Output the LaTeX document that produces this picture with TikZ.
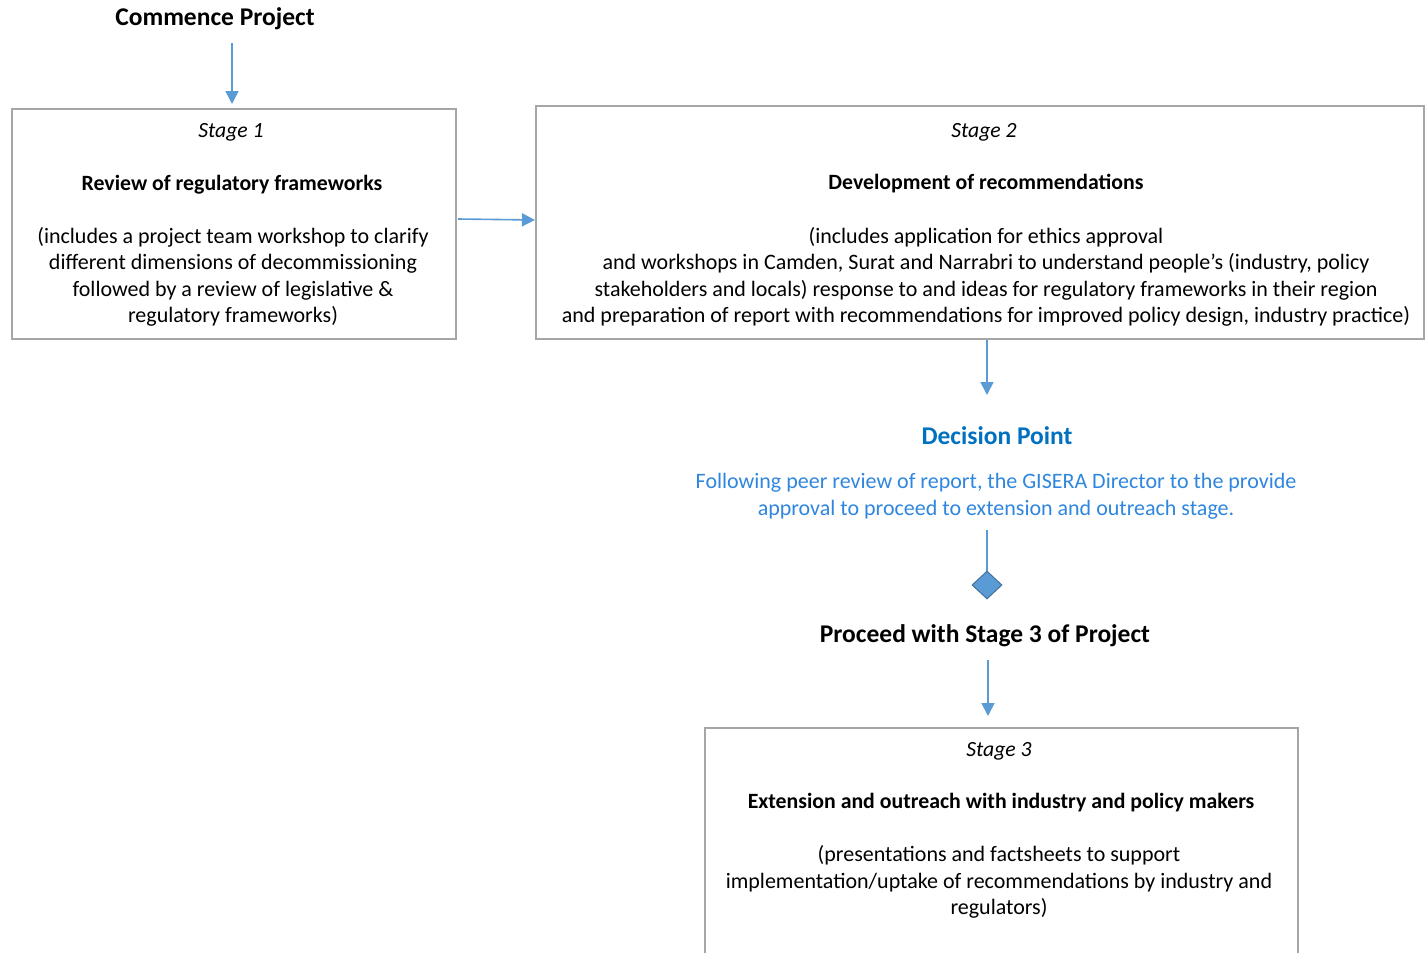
\documentclass[tikz,border=0pt]{standalone}
\usepackage{fontspec}
\setmainfont{Carlito}
\usetikzlibrary{arrows.meta,shapes.geometric}
\definecolor{arrowblue}{HTML}{5B9BD5}
\definecolor{dpblue}{HTML}{0070C0}
\definecolor{txtblue}{HTML}{2E86DE}
\definecolor{boxgray}{HTML}{A6A6A6}
\definecolor{diaborder}{HTML}{41719C}
\tikzset{
  x=1pt,y=-1pt,
  stagebox/.style={draw=boxgray,line width=2pt,inner sep=0pt},
  body/.style={align=center,font=\fontsize{22}{26.5}\selectfont,inner sep=0pt},
  head/.style={font=\fontsize{21.8}{24}\selectfont\bfseries,inner sep=0pt},
  stagelbl/.style={font=\fontsize{21.7}{24}\selectfont\itshape,inner sep=0pt},
  bighead/.style={font=\fontsize{25.5}{28}\selectfont\bfseries,inner sep=0pt},
  conn/.style={draw=arrowblue,line width=1.6pt,-{Triangle[length=13pt,width=13pt]}},
  plain/.style={draw=arrowblue,line width=1.6pt},
}
\begin{document}
\begin{tikzpicture}
\useasboundingbox (0,0) rectangle (1425,953);
\clip (0,0) rectangle (1425,953);
% boxes
\draw[stagebox] (12,109) rectangle (456,339);
\draw[stagebox] (536,106) rectangle (1424,339);
\draw[stagebox] (705,728) rectangle (1298,970);
\coordinate (s1e) at (458,219);
\coordinate (s1n) at (232,104);
\coordinate (s2w) at (535,220);
\coordinate (s2s) at (987,340);
\coordinate (s3n) at (988,716);
% headings
\node[bighead] (commence) at (215,19) {Commence Project};
\node[bighead,text=dpblue] (decision) at (997,436) {Decision Point};
\node[bighead] (proceed) at (985,636) {Proceed with Stage 3 of Project};
% stage 1 text
\node[stagelbl] (s1lbl) at (231,132) {Stage 1};
\node[head] (s1head) at (232,185) {Review of regulatory frameworks};
\node[body] (s1body) at (233,277) {(includes a project team workshop to clarify\\different dimensions of decommissioning\\followed by a review of legislative \&\\regulatory frameworks)};
% stage 2 text
\node[stagelbl] (s2lbl) at (984,132) {Stage 2};
\node[head] (s2head) at (986,184) {Development of recommendations};
\node[body] (s2body) at (986,277) {(includes application for ethics approval\\and workshops in Camden, Surat and Narrabri to understand people’s (industry, policy\\stakeholders and locals) response to and ideas for regulatory frameworks in their region\\and preparation of report with recommendations for improved policy design, industry practice)};
% decision text
\node[body,text=txtblue] (dptext) at (996,496) {Following peer review of report, the GISERA Director to the provide\\approval to proceed to extension and outreach stage.};
% diamond
\node[diamond,fill=arrowblue,draw=diaborder,line width=1pt,minimum width=30pt,minimum height=28pt,inner sep=0pt] (dia) at (987,585) {};
% stage 3 text
\node[stagelbl] (s3lbl) at (999,751) {Stage 3};
\node[head] (s3head) at (1001,803) {Extension and outreach with industry and policy makers};
\node[body] (s3body) at (999,882) {(presentations and factsheets to support\\implementation/uptake of recommendations by industry and\\regulators)};
% connectors
\draw[conn] (232,43) -- (s1n);
\draw[conn] (s1e) -- (s2w);
\draw[conn] (s2s) -- (987,395);
\draw[plain] (987,530) -- (dia.north);
\draw[conn] (988,660) -- (s3n);
\end{tikzpicture}
\end{document}
